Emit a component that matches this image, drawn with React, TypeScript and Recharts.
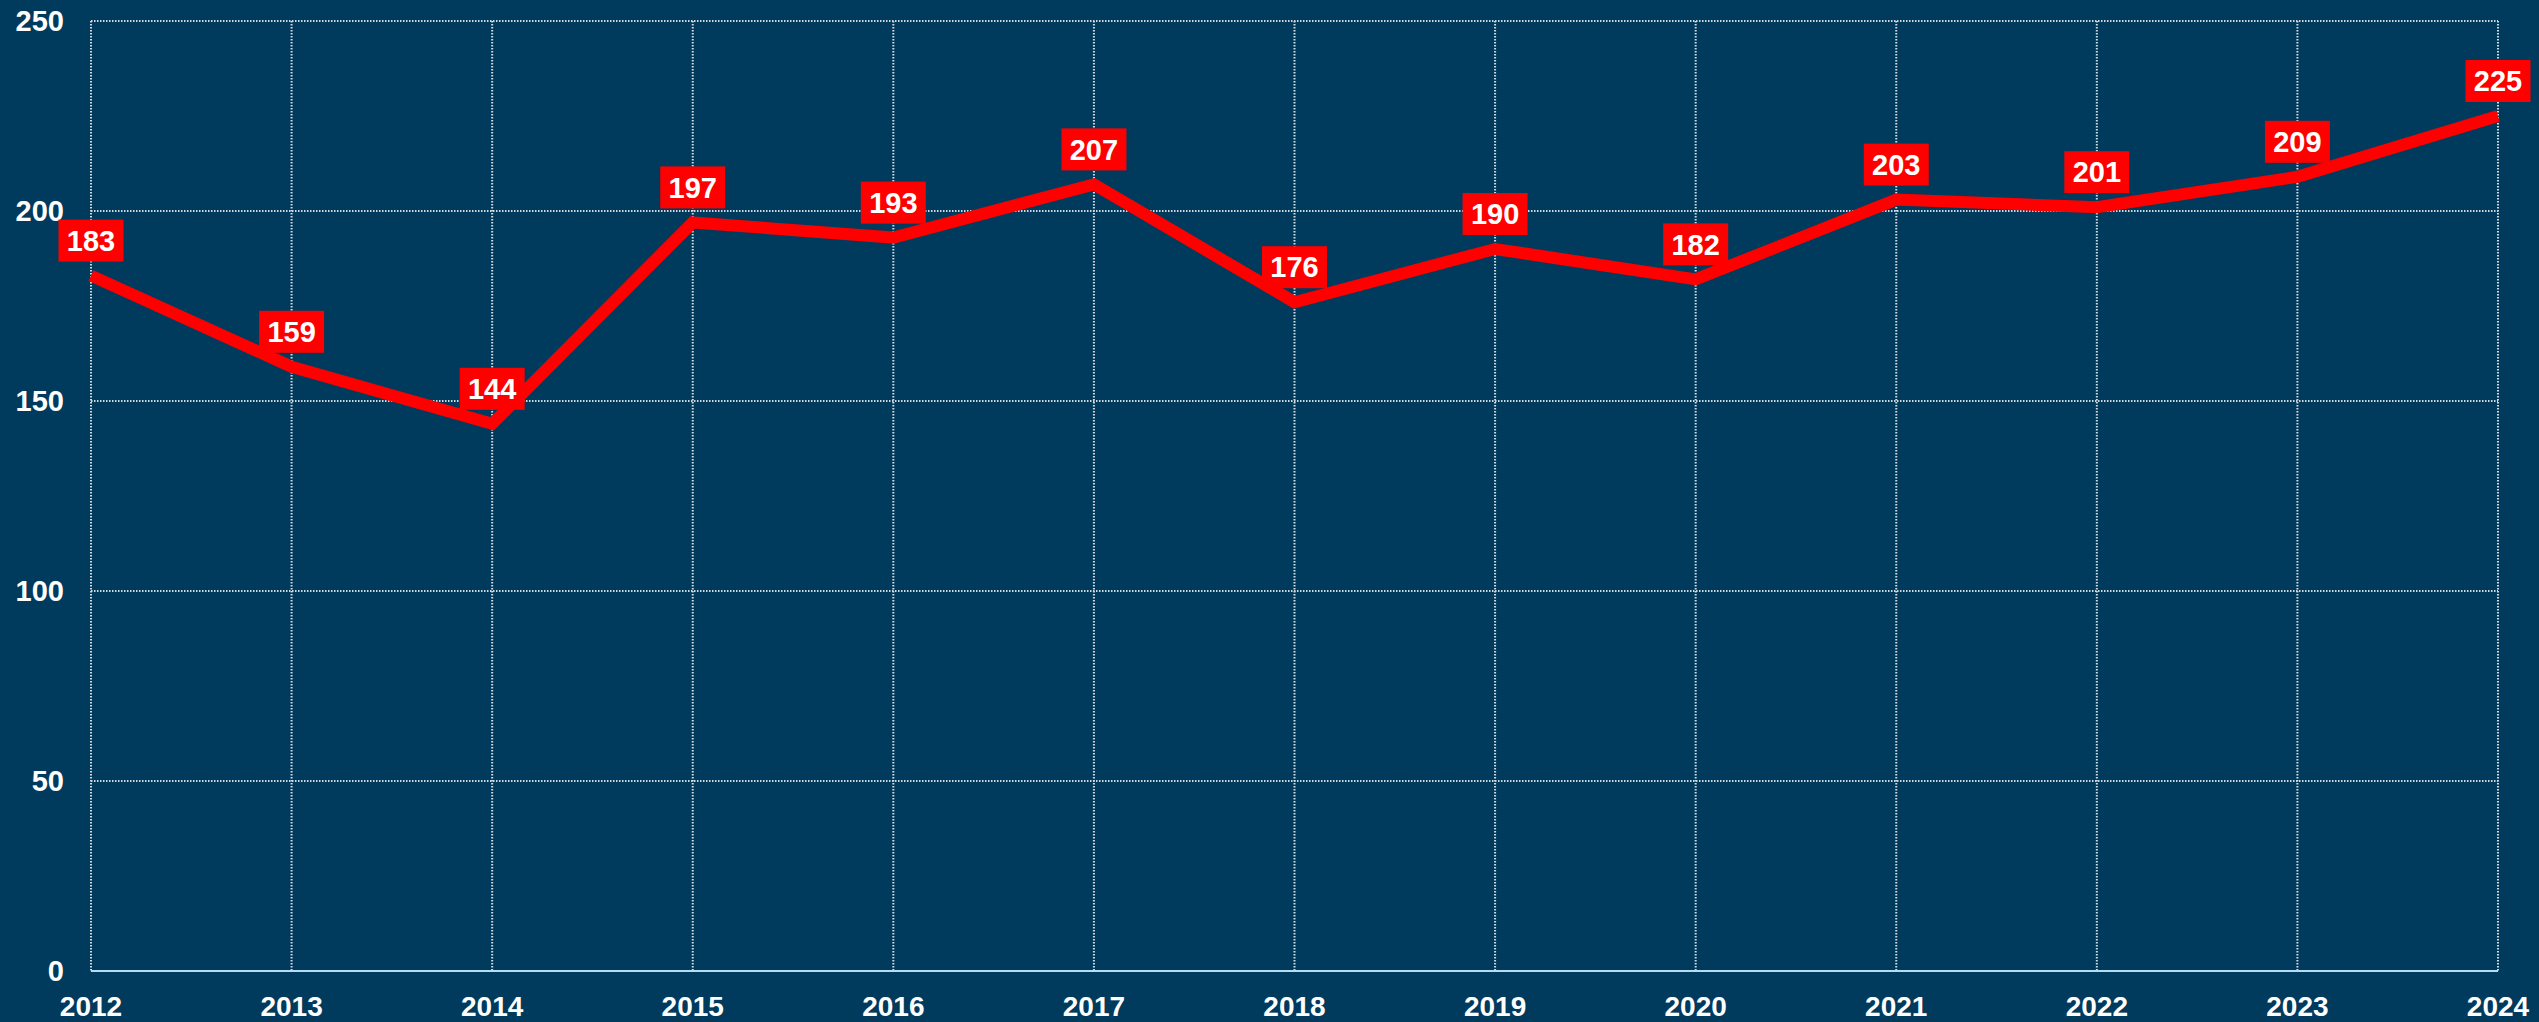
import { LineChart, Line, XAxis, YAxis, CartesianGrid, LabelList } from 'recharts';

const years = ['2012', '2013', '2014', '2015', '2016', '2017', '2018', '2019', '2020', '2021', '2022', '2023', '2024'];
const counts = [183, 159, 144, 197, 193, 207, 176, 190, 182, 203, 201, 209, 225];
const yTicks = [0, 50, 100, 150, 200, 250];

const data = years.map((year, i) => ({ year, count: counts[i] }));

const BG = '#003A5D';
const RED = '#FF0000';
const FONT = '"Liberation Sans", Arial, sans-serif';

function ValueLabel(props: any) {
  const { x, y, value } = props;
  if (x == null || y == null) return null;
  const w = 65;
  const h = 42;
  const gap = 14;
  return (
    <g>
      <rect x={x - w / 2} y={y - gap - h} width={w} height={h} fill={RED} />
      <text
        x={x}
        y={y - gap - h / 2}
        dy="0.355em"
        textAnchor="middle"
        fill="#fff"
        fontFamily={FONT}
        fontWeight={700}
        fontSize={29}
      >
        {value}
      </text>
    </g>
  );
}

export default function App() {
  return (
    <div style={{ position: 'absolute', left: 0, top: 0, width: 2539, height: 1022, background: BG }}>
      <LineChart
        width={2539}
        height={1022}
        data={data}
        margin={{ top: 21, right: 41, left: 0, bottom: 11 }}
      >
        <CartesianGrid stroke="#d3d9df" strokeDasharray="1.5 1.5" strokeWidth={2} />
        <XAxis
          dataKey="year"
          axisLine={{ stroke: '#b4dcf4', strokeWidth: 2 }}
          tickLine={false}
          tickSize={0}
          tickMargin={25}
          height={40}
          interval={0}
          tick={{ fill: '#fff', fontFamily: FONT, fontWeight: 700, fontSize: 28 }}
        />
        <YAxis
          domain={[0, 250]}
          ticks={yTicks}
          axisLine={false}
          tickLine={false}
          tickSize={0}
          tickMargin={27}
          width={91}
          tick={{ fill: '#fff', fontFamily: FONT, fontWeight: 700, fontSize: 29 }}
        />
        <Line
          type="linear"
          dataKey="count"
          stroke={RED}
          strokeWidth={12}
          strokeLinejoin="miter"
          strokeLinecap="butt"
          dot={false}
          activeDot={false}
          isAnimationActive={false}
        >
          <LabelList dataKey="count" content={<ValueLabel />} />
        </Line>
      </LineChart>
    </div>
  );
}
